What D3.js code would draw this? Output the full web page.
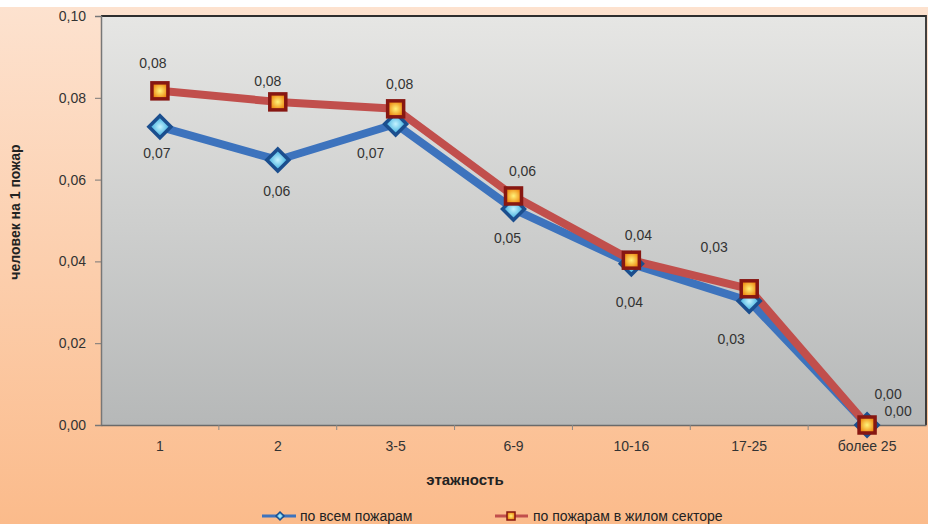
<!DOCTYPE html>
<html><head><meta charset="utf-8">
<script src="https://cdn.jsdelivr.net/npm/d3@7"></script>
<style>body{margin:0;background:#fff}svg{display:block}text{font-family:"Liberation Sans",Arial,sans-serif}</style>
</head><body><svg id="c" width="928" height="524"></svg>
<script>
const categories = ["1","2","3-5","6-9","10-16","17-25","более 25"];
const allFires = [0.0729,0.0648,0.0736,0.0528,0.0394,0.0303,0.0];
const residentialFires = [0.0817,0.0790,0.0773,0.0560,0.0403,0.0333,0.0];
const yTicks = [0,0.02,0.04,0.06,0.08,0.10];
const seriesNames = ["по всем пожарам","по пожарам в жилом секторе"];
const xTitle = "этажность";
const yTitle = "человек на 1 пожар";

const svg = d3.select("#c");
const defs = svg.append("defs");
const bg = defs.append("linearGradient").attr("id","bg").attr("x1",0).attr("y1",0).attr("x2",0).attr("y2",1);
bg.append("stop").attr("offset","0").attr("stop-color","#fde2cf");
bg.append("stop").attr("offset","1").attr("stop-color","#fbbb8b");
const pg = defs.append("linearGradient").attr("id","pg").attr("x1",0).attr("y1",0).attr("x2",0).attr("y2",1);
pg.append("stop").attr("offset","0").attr("stop-color","#e6e6e4");
pg.append("stop").attr("offset","1").attr("stop-color","#b6b8b8");
const dg = defs.append("radialGradient").attr("id","dg");
dg.append("stop").attr("offset","0").attr("stop-color","#c4f3ff");
dg.append("stop").attr("offset","1").attr("stop-color","#2aa3d8");
const sg = defs.append("radialGradient").attr("id","sg");
sg.append("stop").attr("offset","0").attr("stop-color","#fff37a");
sg.append("stop").attr("offset","1").attr("stop-color","#ee8a12");

svg.append("rect").attr("x",0).attr("y",7).attr("width",928).attr("height",517).attr("fill","url(#bg)");

const L=101,R=926,T=16,B=425;
const x = d3.scaleBand().domain(categories).range([L,R]).paddingInner(0).paddingOuter(0);
const y = d3.scaleLinear().domain([0,0.10]).range([B,T]);
const cx = c => x(c)+x.bandwidth()/2;

svg.append("rect").attr("x",L).attr("y",T).attr("width",R-L).attr("height",B-T).attr("fill","url(#pg)");
svg.append("path").attr("d",`M${L},${T}H${R}V${B}`).attr("fill","none").attr("stroke","#2e2e2e").attr("stroke-width",1.8);

const fmt = v => d3.format(".2f")(v).replace(".",",");
const yAxis = svg.append("g").attr("transform",`translate(${L},0)`)
  .call(d3.axisLeft(y).tickValues(yTicks).tickFormat(fmt).tickSize(6).tickPadding(9));
yAxis.select(".domain").attr("stroke","#777").attr("stroke-width",1.5);
yAxis.selectAll("line").attr("stroke","#777");
yAxis.selectAll("text").attr("font-size",14).attr("fill","#333");

const xAxis = svg.append("g").attr("transform",`translate(0,${B})`)
  .call(d3.axisBottom(x).tickSize(0).tickPadding(16));
xAxis.select(".domain").attr("stroke","#6a6a6a").attr("stroke-width",1.5);
xAxis.selectAll("text").attr("font-size",14).attr("fill","#333");
svg.append("g").selectAll("line").data(categories.slice(1)).join("line")
  .attr("x1",d=>x(d)).attr("x2",d=>x(d)).attr("y1",B).attr("y2",B+5).attr("stroke","#888");

svg.append("text").attr("x",465).attr("y",485).attr("text-anchor","middle")
  .attr("font-size",15).attr("font-weight","bold").attr("fill","#222").text(xTitle);
svg.append("text").attr("transform","translate(20,212) rotate(-90)").attr("text-anchor","middle")
  .attr("font-size",14).attr("font-weight","bold").attr("fill","#222").text(yTitle);

const line = d3.line().x((d,i)=>cx(categories[i])).y(d=>y(d));
svg.append("path").datum(allFires).attr("d",line).attr("fill","none")
  .attr("stroke","#3d73bd").attr("stroke-width",8).attr("stroke-linejoin","round");
svg.append("path").datum(residentialFires).attr("d",line).attr("fill","none")
  .attr("stroke","#c14f4c").attr("stroke-width",8).attr("stroke-linejoin","round");

function diamond(g, px, py, s, w){
  g.append("path").attr("d",`M${px},${py-s}L${px+s},${py}L${px},${py+s}L${px-s},${py}Z`)
    .attr("fill","url(#dg)").attr("stroke","#1b4e8e").attr("stroke-width",w);
}
function square(g, px, py, s, w){
  g.append("rect").attr("x",px-s).attr("y",py-s).attr("width",2*s).attr("height",2*s)
    .attr("fill","url(#sg)").attr("stroke","#871712").attr("stroke-width",w);
}
const mk = svg.append("g");
allFires.forEach((v,i)=>diamond(mk,cx(categories[i]),y(v),11,3.5));
residentialFires.forEach((v,i)=>square(mk,cx(categories[i]),y(v),8,3.5));

// data labels (dx, dy of label centre from the marker)
const blueOff = [[-3,26],[-1,31],[-25,29],[-6,29],[-2,38],[-18,38],[21,-31]];
const redOff  = [[-7,-28],[-10,-21],[4,-25],[9,-25],[7,-25],[-35,-42],[31,-14]];
const lab = svg.append("g").attr("font-size",14).attr("fill","#333").attr("text-anchor","middle");
allFires.forEach((v,i)=>lab.append("text").attr("x",cx(categories[i])+blueOff[i][0]).attr("y",y(v)+blueOff[i][1]).attr("dy","0.35em").text(fmt(v)));
residentialFires.forEach((v,i)=>lab.append("text").attr("x",cx(categories[i])+redOff[i][0]).attr("y",y(v)+redOff[i][1]).attr("dy","0.35em").text(fmt(v)));

// legend
const lg = svg.append("g");
lg.append("line").attr("x1",262).attr("x2",296).attr("y1",516).attr("y2",516).attr("stroke","#3d73bd").attr("stroke-width",3);
diamond(lg,280,516,4,1.5);
lg.append("text").attr("x",300).attr("y",521).attr("font-size",14).attr("fill","#222").text(seriesNames[0]);
lg.append("line").attr("x1",495).attr("x2",528).attr("y1",516).attr("y2",516).attr("stroke","#c14f4c").attr("stroke-width",3);
square(lg,511,516,4,1.5);
lg.append("text").attr("x",533).attr("y",521).attr("font-size",14).attr("fill","#222").text(seriesNames[1]);
</script></body></html>
